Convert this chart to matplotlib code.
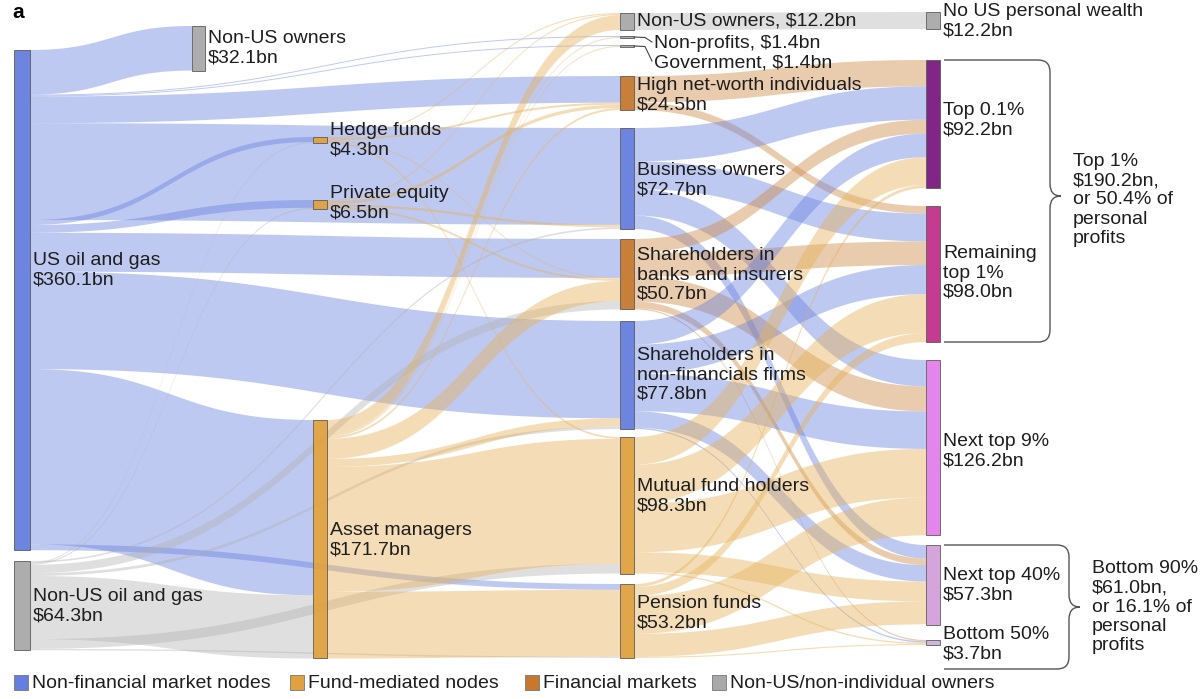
import numpy as np
import matplotlib.pyplot as plt
from matplotlib.path import Path
from matplotlib.patches import PathPatch, Rectangle, Polygon

plt.rcParams['font.family'] = ['Liberation Sans', 'DejaVu Sans']

# ---- data (values in $bn) ----
node_ids = ["us_oil", "nonus_oil", "nonus_own1", "hedge", "pe", "am",
            "nonus_own3", "nonprofit", "gov", "hnwi", "biz", "banks",
            "nonfin", "mutual", "pension",
            "no_us", "top01", "rem1", "next9", "next40", "bottom50"]
node_values = [360.1, 64.3, 32.1, 4.3, 6.5, 171.7,
               12.2, 1.4, 1.4, 24.5, 72.7, 50.7,
               77.8, 98.3, 53.2,
               12.2, 92.2, 98.0, 126.2, 57.3, 3.7]
node_labels = ["US oil and gas\n$360.1bn", "Non-US oil and gas\n$64.3bn",
               "Non-US owners\n$32.1bn", "Hedge funds\n$4.3bn",
               "Private equity\n$6.5bn", "Asset managers\n$171.7bn",
               "Non-US owners, $12.2bn", "Non-profits, $1.4bn",
               "Government, $1.4bn", "High net-worth individuals\n$24.5bn",
               "Business owners\n$72.7bn",
               "Shareholders in\nbanks and insurers\n$50.7bn",
               "Shareholders in\nnon-financials firms\n$77.8bn",
               "Mutual fund holders\n$98.3bn", "Pension funds\n$53.2bn",
               "No US personal wealth\n$12.2bn", "Top 0.1%\n$92.2bn",
               "Remaining\ntop 1%\n$98.0bn", "Next top 9%\n$126.2bn",
               "Next top 40%\n$57.3bn", "Bottom 50%\n$3.7bn"]

link_src = (["us_oil"] * 11 + ["nonus_oil"] * 8 + ["hedge"] * 4 + ["pe"] * 4
            + ["am"] * 8 + ["nonus_own3"] + ["hnwi"] * 2 + ["biz"] * 4
            + ["banks"] * 5 + ["nonfin"] * 5 + ["mutual"] * 5 + ["pension"] * 5)
link_tgt = (["nonus_own1", "nonprofit", "gov", "hnwi", "biz", "hedge", "pe",
             "banks", "nonfin", "am", "pension"]
            + ["hedge", "pe", "biz", "banks", "nonfin", "am", "mutual", "pension"]
            + ["nonus_own3", "hnwi", "banks", "mutual"]
            + ["nonus_own3", "hnwi", "biz", "banks"]
            + ["nonus_own3", "nonprofit", "gov", "hnwi", "banks", "nonfin",
               "mutual", "pension"]
            + ["no_us"]
            + ["top01", "rem1"]
            + ["top01", "rem1", "next9", "next40"]
            + ["top01", "rem1", "next9", "next40", "bottom50"] * 4)
link_val = ([32.1, 0.7, 0.7, 19.2, 69.7, 3.6, 5.6, 28.0, 70.1, 126.2, 4.2]
            + [0.7, 0.9, 1.2, 6.0, 2.0, 45.5, 7.0, 1.0]
            + [0.8, 1.5, 0.7, 1.3]
            + [0.8, 2.4, 1.8, 1.5]
            + [10.6, 0.7, 0.7, 1.5, 14.5, 5.7, 90.0, 48.0]
            + [12.2]
            + [19.0, 5.5]
            + [24.0, 20.0, 19.0, 9.7]
            + [10.0, 17.0, 18.0, 4.8, 0.9]
            + [17.0, 21.0, 27.0, 11.8, 1.0]
            + [20.0, 28.0, 35.0, 14.3, 1.0]
            + [2.2, 6.5, 27.2, 16.5, 0.8])

legend_labels = ["Non-financial market nodes", "Fund-mediated nodes",
                 "Financial markets", "Non-US/non-individual owners"]

# ---- layout ----
K = 1.389  # px per $bn
BLUE, FUND, BROWN, GREY = "#667fde", "#e0a140", "#c5782e", "#a9a9a9"
node_x = [14, 14, 192, 313, 313, 313,
          620, 620, 620, 620, 620, 620, 620, 620, 620,
          926, 926, 926, 926, 926, 926]
node_w = [16, 16, 13, 14, 14, 14] + [14] * 9 + [14] * 6
node_top = [50, 561, 26, 137, 200, 420,
            13, 36, 45, 76, 128, 239, 321, 437, 584,
            12, 60, 206, 360, 545, 640]
node_color = [BLUE, GREY, GREY, FUND, FUND, FUND,
              GREY, GREY, GREY, BROWN, BLUE, BROWN, BLUE, FUND, FUND,
              GREY, "#7b1a7f", "#c1318a", "#e27fe9", "#d2a0d9", "#cab3d6"]
label_y = {"nonus_own1": 48, "hedge": 140, "pe": 203, "us_oil": 270,
           "nonus_oil": 606, "am": 540, "hnwi": 95, "biz": 180, "banks": 275,
           "nonfin": 375, "mutual": 496, "pension": 613, "no_us": 21,
           "top01": 120, "rem1": 273, "next9": 451, "next40": 585,
           "bottom50": 644, "nonus_own3": 21}
link_colors = {BLUE: "#667fde", FUND: "#e6b25a", BROWN: "#cf8d4a", GREY: "#b0b0b0"}
link_alpha = {BLUE: 0.42, FUND: 0.44, BROWN: 0.45, GREY: 0.4}
TXT = "#1e1e1e"
fs = 14
ls = 1.17

idx = {n: i for i, n in enumerate(node_ids)}

fig = plt.figure(figsize=(12, 6.99), dpi=100)
ax = fig.add_axes([0, 0, 1, 1])
ax.set_xlim(0, 1200)
ax.set_ylim(699, 0)
ax.axis("off")

# stack links at source (by target top) and at target (by source top)
links = list(zip(link_src, link_tgt, link_val))
src_pos, tgt_pos = {}, {}
for n in node_ids:
    off = 0.0
    outs = sorted([l for l in range(len(links)) if links[l][0] == n],
                  key=lambda l: node_top[idx[links[l][1]]])
    for l in outs:
        src_pos[l] = node_top[idx[n]] + off
        off += links[l][2] * K
    off = 0.0
    ins = sorted([l for l in range(len(links)) if links[l][1] == n],
                 key=lambda l: node_top[idx[links[l][0]]])
    for l in ins:
        tgt_pos[l] = node_top[idx[n]] + off
        off += links[l][2] * K

t = np.linspace(0, 1, 80)


def bez(a, b, c, d):
    return (1 - t) ** 3 * a + 3 * (1 - t) ** 2 * t * b + 3 * (1 - t) * t ** 2 * c + t ** 3 * d


for l, (s, g, v) in enumerate(links):
    si, gi = idx[s], idx[g]
    x0 = node_x[si] + node_w[si]
    x1 = node_x[gi]
    xm = (x0 + x1) / 2
    xs = bez(x0, xm, xm, x1)
    top = bez(src_pos[l], src_pos[l], tgt_pos[l], tgt_pos[l])
    bot = top + v * K
    pts = np.concatenate([np.column_stack([xs, top]),
                          np.column_stack([xs[::-1], bot[::-1]])])
    c = node_color[si]
    ax.add_patch(Polygon(pts, closed=True, facecolor=link_colors[c],
                         alpha=link_alpha[c], edgecolor="none", zorder=1))

# nodes
for i, n in enumerate(node_ids):
    ax.add_patch(Rectangle((node_x[i], node_top[i]), node_w[i],
                           max(node_values[i] * K, 2.0),
                           facecolor=node_color[i], edgecolor="#555555",
                           linewidth=0.6, alpha=0.95, zorder=3))

# labels
for i, n in enumerate(node_ids):
    if n in ("nonprofit", "gov"):
        continue
    ax.text(node_x[i] + node_w[i] + 3, label_y[n], node_labels[i], fontsize=fs,
            va="center", ha="left", color=TXT, linespacing=ls, zorder=5)

# leader lines for the two tiny nodes
for n, ly in (("nonprofit", 44), ("gov", 63)):
    i = idx[n]
    y0 = node_top[i] + 1
    ax.plot([634, 645, 652], [y0, y0 + 0.5, ly - 2], color="#444444", lw=0.8, zorder=4)
    ax.text(654, ly, node_labels[i], fontsize=fs, va="center", ha="left",
            color=TXT, zorder=5)


def brace(x0, xv, ytop, ybot, ytip, xtip, r=12):
    verts = [(x0, ytop), (xv - r, ytop), (xv, ytop), (xv, ytop + r),
             (xv, ytip - r), (xv, ytip), (xtip, ytip),
             (xv, ytip), (xv, ytip + r),
             (xv, ybot - r), (xv, ybot), (xv - r, ybot), (x0, ybot)]
    codes = [Path.MOVETO, Path.LINETO, Path.CURVE3, Path.CURVE3,
             Path.LINETO, Path.CURVE3, Path.CURVE3,
             Path.CURVE3, Path.CURVE3,
             Path.LINETO, Path.CURVE3, Path.CURVE3, Path.LINETO]
    ax.add_patch(PathPatch(Path(verts, codes), facecolor="none",
                           edgecolor="#555555", lw=1.0, zorder=4))


brace(944, 1050, 60, 342, 196, 1061)
brace(944, 1069, 545, 669, 607, 1080)
ax.text(1073, 200, "Top 1%\n$190.2bn,\nor 50.4% of\npersonal\nprofits",
        fontsize=fs, va="center", ha="left", color=TXT, linespacing=ls)
ax.text(1092, 607, "Bottom 90%\n$61.0bn,\nor 16.1% of\npersonal\nprofits",
        fontsize=fs, va="center", ha="left", color=TXT, linespacing=ls)

ax.text(12, 12, "a", fontsize=15, fontweight="bold", va="center", ha="left")

# legend
leg_x = [14, 290, 525, 712]
for lx, lab, c in zip(leg_x, legend_labels, [BLUE, FUND, BROWN, GREY]):
    ax.add_patch(Rectangle((lx, 675), 14, 15, facecolor=c,
                           edgecolor="#777777", lw=0.6, zorder=5))
    ax.text(lx + 18, 683, lab, fontsize=fs, va="center", ha="left", color=TXT)

fig.savefig("out.png", dpi=100)
